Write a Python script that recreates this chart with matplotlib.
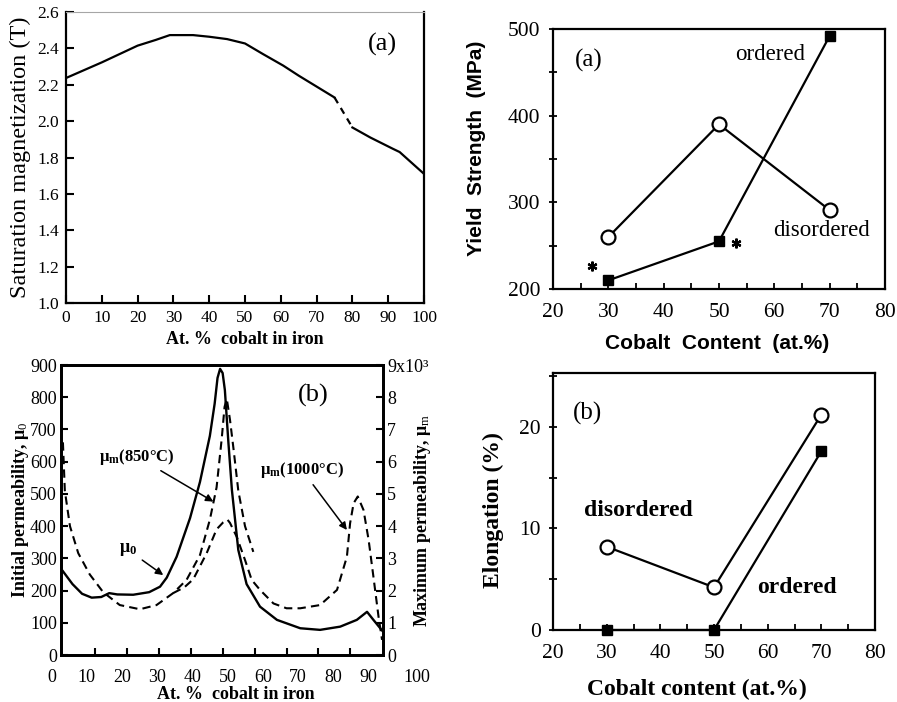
import matplotlib
matplotlib.use("Agg")
import matplotlib.pyplot as plt
from matplotlib.ticker import MultipleLocator

plt.rcParams["font.family"] = ["Liberation Serif", "DejaVu Serif"]
plt.rcParams["mathtext.fontset"] = "custom"
plt.rcParams["mathtext.rm"] = "Liberation Serif"
plt.rcParams["mathtext.bf"] = "Liberation Serif:bold"
plt.rcParams["mathtext.it"] = "Liberation Serif:italic"

# Saturation magnetization vs. Co content (dashed across the ordering gap)
sat_co_low = [0, 10, 20, 25, 29, 35.5, 40, 45, 50, 55, 60.7, 65, 70, 75]
sat_ms_low = [2.237, 2.323, 2.415, 2.446, 2.473, 2.473, 2.464, 2.451, 2.427, 2.369, 2.305, 2.25, 2.19, 2.13]
sat_co_gap = [75, 80]
sat_ms_gap = [2.13, 1.965]
sat_co_high = [80, 85, 91.3, 93.2, 100]
sat_ms_high = [1.965, 1.91, 1.848, 1.83, 1.71]

# Initial permeability mu0 (left axis)
mu0_co = [0, 3, 6, 9, 12, 14.5, 17, 22, 27, 30.4, 32.5, 35.6, 39.8, 42.9, 46, 47.5, 48.4,
          49.2, 50.0, 50.7, 51.8, 52.9, 54.9, 57.5, 61.7, 67, 74.3, 80.5, 86.8, 92, 95.2, 97.2, 100]
mu0 = [260, 220, 190, 178, 180, 192, 188, 187, 195, 212, 240, 305, 425, 537, 680, 780, 860,
       888, 875, 822, 660, 512, 326, 220, 150, 109, 83, 78, 88, 109, 134, 109, 75]

# Maximum permeability (right axis, x10^3)
mum850_co = [0, 0.6, 2.2, 4.8, 8.4, 12.6, 17.8, 24.1, 29.3, 34.5, 38.7, 42.9, 46, 48.1,
             49.7, 50.6, 51.3, 52.3, 53.4, 54.9, 57, 59.6]
mum850 = [6.6, 5.1, 4.0, 3.16, 2.5, 1.95, 1.55, 1.42, 1.55, 1.92, 2.33, 3.1, 4.2, 5.2,
          6.7, 7.7, 7.95, 7.3, 6.4, 5.1, 4.0, 3.2]
mum1000_co = [34.5, 38, 40.8, 45, 48.1, 50.2, 51.5, 52.3, 54.4, 57, 59.1, 61.7, 65.9, 70,
              74.3, 80.5, 85.8, 88.9, 89.9, 91, 92.3, 94.1, 95.7, 97.2, 98.8, 99.9]
mum1000 = [1.92, 2.1, 2.35, 3.16, 3.9, 4.12, 4.2, 4.1, 3.67, 2.95, 2.33, 2.02, 1.6, 1.45,
           1.45, 1.55, 2.02, 3.05, 4.09, 4.71, 4.92, 4.5, 3.57, 2.43, 1.19, 0.47]

# Yield strength (MPa)
ys_co = [30, 50, 70]
ys_disordered = [260, 390, 291]
ys_ordered = [210, 255, 492]
ys_star_co = [27, 53]
ys_star = [226, 253]

# Elongation (%)
el_co = [30, 50, 70]
el_disordered = [8.2, 4.2, 21.2]
el_ordered = [0, 0, 17.6]

perm_tick_labels = ["0", "10", "20", "30", "40", "50", "60", "70", "80", "90", "100"]
mum_tick_labels = ["0", "1", "2", "3", "4", "5", "6", "7", "8", "9x10³"]

W, H = 897, 702
fig = plt.figure(figsize=(W / 100, H / 100), dpi=100)


def add_axes_px(left, top, right, bottom):
    return fig.add_axes([left / W, 1 - bottom / H, (right - left) / W, (bottom - top) / H])


# ---- top left: saturation magnetization ----
ax1 = add_axes_px(66, 12, 424, 303)
ax1.plot(sat_co_low, sat_ms_low, color="k", lw=1.6)
ax1.plot(sat_co_gap, sat_ms_gap, color="k", lw=1.6, ls=(0, (3, 2.5)))
ax1.plot(sat_co_high, sat_ms_high, color="k", lw=1.6)
ax1.set_xlim(0, 100)
ax1.set_ylim(1.0, 2.6)
ax1.set_xticks(range(0, 101, 10))
ax1.set_yticks([1.0, 1.2, 1.4, 1.6, 1.8, 2.0, 2.2, 2.4, 2.6])
ax1.yaxis.set_major_formatter(lambda v, p: f"{v:.1f}")
ax1.tick_params(direction="in", length=6, width=1.5, labelsize=12.5, pad=5,
                top=False, right=False)
for s in ["left", "bottom", "right"]:
    ax1.spines[s].set_linewidth(1.6)
ax1.spines["top"].set_color("0.65")
ax1.spines["top"].set_linewidth(0.8)
ax1.set_ylabel("Saturation magnetization (T)", fontsize=17.5, va="center")
ax1.yaxis.set_label_coords(-0.126, 0.5)
ax1.set_xlabel("At. %  cobalt in iron", fontsize=13, fontweight="bold", va="center")
ax1.xaxis.set_label_coords(0.5, -0.124)
ax1.text(88.5, 2.42, "(a)", fontsize=19, ha="center", va="center")

# ---- bottom left: initial and maximum permeability ----
ax2 = add_axes_px(61, 365, 383, 655)
ax2r = ax2.twinx()
ax2.plot(mu0_co, mu0, color="k", lw=1.7)
ax2r.plot(mum850_co, mum850, color="k", lw=1.5, ls=(0, (4, 2.5)))
ax2r.plot(mum1000_co, mum1000, color="k", lw=1.5, ls=(0, (4, 2.5)))
ax2.set_xlim(-0.6, 100.2)
ax2.set_ylim(0, 900)
ax2r.set_ylim(0, 9)
ax2.set_xticks(range(10, 100, 10))
ax2.set_yticks(range(0, 901, 100))
ax2r.set_yticks(range(0, 10), labels=mum_tick_labels)
ax2.tick_params(axis="x", direction="in", length=5, width=1.5, labelbottom=False)
ax2.tick_params(axis="y", direction="in", length=5, width=1.5, labelsize=13, pad=3)
ax2r.tick_params(axis="y", direction="in", length=5, width=1.5, labelsize=13, pad=3)
for a in (ax2, ax2r):
    for s in a.spines.values():
        s.set_linewidth(2)
ax2.set_ylabel("Initial permeability, μ$_0$", fontsize=13, fontweight="bold", va="center")
ax2.yaxis.set_label_coords(-0.125, 0.5)
ax2r.set_ylabel("Maximum permeability, μ$_\\mathrm{m}$", fontsize=13, fontweight="bold",
                va="center", rotation=90)
ax2r.yaxis.set_label_coords(1.124, 0.465)
ax2.text(78.4, 807, "(b)", fontsize=19, ha="center", va="center")
arrow = dict(arrowstyle="-|>", color="k", lw=1.1, mutation_scale=11, shrinkA=2, shrinkB=0)
ax2r.annotate("μ$_\\mathbf{m}$(850°C)", xy=(47.1, 4.76), xytext=(23.1, 6.16),
              fontsize=12, fontweight="bold", ha="center", va="center", arrowprops=arrow)
ax2.annotate("μ$_\\mathbf{0}$", xy=(31.4, 248), xytext=(20.4, 326),
             fontsize=13, fontweight="bold", ha="center", va="center", arrowprops=arrow)
ax2r.annotate("μ$_\\mathbf{m}$(1000°C)", xy=(88.9, 3.88), xytext=(74.8, 5.75),
              fontsize=12, fontweight="bold", ha="center", va="center", arrowprops=arrow)

# tick labels of the composition axis sit on their own scale
axl = add_axes_px(51.7, 365, 51.7 + 3.52 * 104, 655)
axl.set_frame_on(False)
axl.set_xlim(0, 104)
axl.set_xticks(list(range(0, 91, 10)) + [103.7], labels=perm_tick_labels)
axl.set_yticks([])
axl.tick_params(axis="x", length=0, labelsize=13, pad=10)
ax2.set_xlabel("At. %  cobalt in iron", fontsize=13, fontweight="bold", va="center")
ax2.xaxis.set_label_coords(0.5425, -0.136)

# ---- top right: yield strength ----
ax3 = add_axes_px(553, 29, 885, 289)
ax3.plot(ys_co, ys_disordered, color="k", lw=1.6, marker="o", ms=10, mfc="white",
         mec="k", mew=1.6, clip_on=False, zorder=3)
ax3.plot(ys_co, ys_ordered, color="k", lw=1.6, marker="s", ms=7, mfc="k", mec="k",
         clip_on=False, zorder=3)
ax3.plot(ys_star_co, ys_star, ls="none", marker=(6, 2, 0), ms=7, mec="k", mew=1.6)
ax3.set_xlim(20, 80)
ax3.set_ylim(200, 500)
ax3.set_xticks(range(20, 81, 10))
ax3.set_yticks(range(200, 501, 100))
ax3.xaxis.set_minor_locator(MultipleLocator(5))
ax3.yaxis.set_minor_locator(MultipleLocator(50))
ax3.tick_params(axis="x", which="both", direction="in", length=4, width=1.3,
                labelsize=15.5, pad=10)
ax3.tick_params(axis="y", which="both", direction="inout", length=6, width=1.3,
                labelsize=15.5, pad=6)
for s in ax3.spines.values():
    s.set_linewidth(1.6)
ax3.set_ylabel("Yield  Strength  (MPa)", family="Liberation Sans", fontsize=15,
               fontweight="bold", va="center")
ax3.yaxis.set_label_coords(-0.23, 0.542)
ax3.set_xlabel("Cobalt  Content  (at.%)", family="Liberation Sans", fontsize=15,
               fontweight="bold", va="center")
ax3.xaxis.set_label_coords(0.493, -0.208)
ax3.text(26.4, 464, "(a)", fontsize=18, ha="center", va="center")
ax3.text(59.3, 470, "ordered", fontsize=16.5, ha="center", va="center")
ax3.text(68.6, 268, "disordered", fontsize=16.5, ha="center", va="center")

# ---- bottom right: elongation ----
ax4 = add_axes_px(553, 373, 875, 630)
ax4.plot(el_co, el_disordered, color="k", lw=1.6, marker="o", ms=10, mfc="white",
         mec="k", mew=1.6, clip_on=False, zorder=3)
ax4.plot(el_co, el_ordered, color="k", lw=1.6, marker="s", ms=7, mfc="k", mec="k",
         clip_on=False, zorder=3)
ax4.set_xlim(20, 80)
ax4.set_ylim(0, 25.3)
ax4.set_xticks(range(20, 81, 10))
ax4.set_yticks([0, 10, 20])
ax4.xaxis.set_minor_locator(MultipleLocator(5))
ax4.yaxis.set_minor_locator(MultipleLocator(5))
ax4.tick_params(axis="x", which="both", direction="in", length=4, width=1.3,
                labelsize=15.5, pad=10)
ax4.tick_params(axis="y", which="both", direction="inout", length=6, width=1.3,
                labelsize=15.5, pad=6)
for s in ax4.spines.values():
    s.set_linewidth(1.6)
ax4.set_ylabel("Elongation (%)", fontsize=17, fontweight="bold", va="center")
ax4.yaxis.set_label_coords(-0.186, 0.467)
ax4.set_xlabel("Cobalt content (at.%)", fontsize=17, fontweight="bold", va="center")
ax4.xaxis.set_label_coords(0.446, -0.233)
ax4.text(26.5, 21.3, "(b)", fontsize=18, ha="center", va="center")
ax4.text(35.9, 11.8, "disordered", fontsize=17, fontweight="bold", ha="center", va="center")
ax4.text(65.5, 4.2, "ordered", fontsize=17, fontweight="bold", ha="center", va="center")

fig.savefig("out.png", dpi=100)
